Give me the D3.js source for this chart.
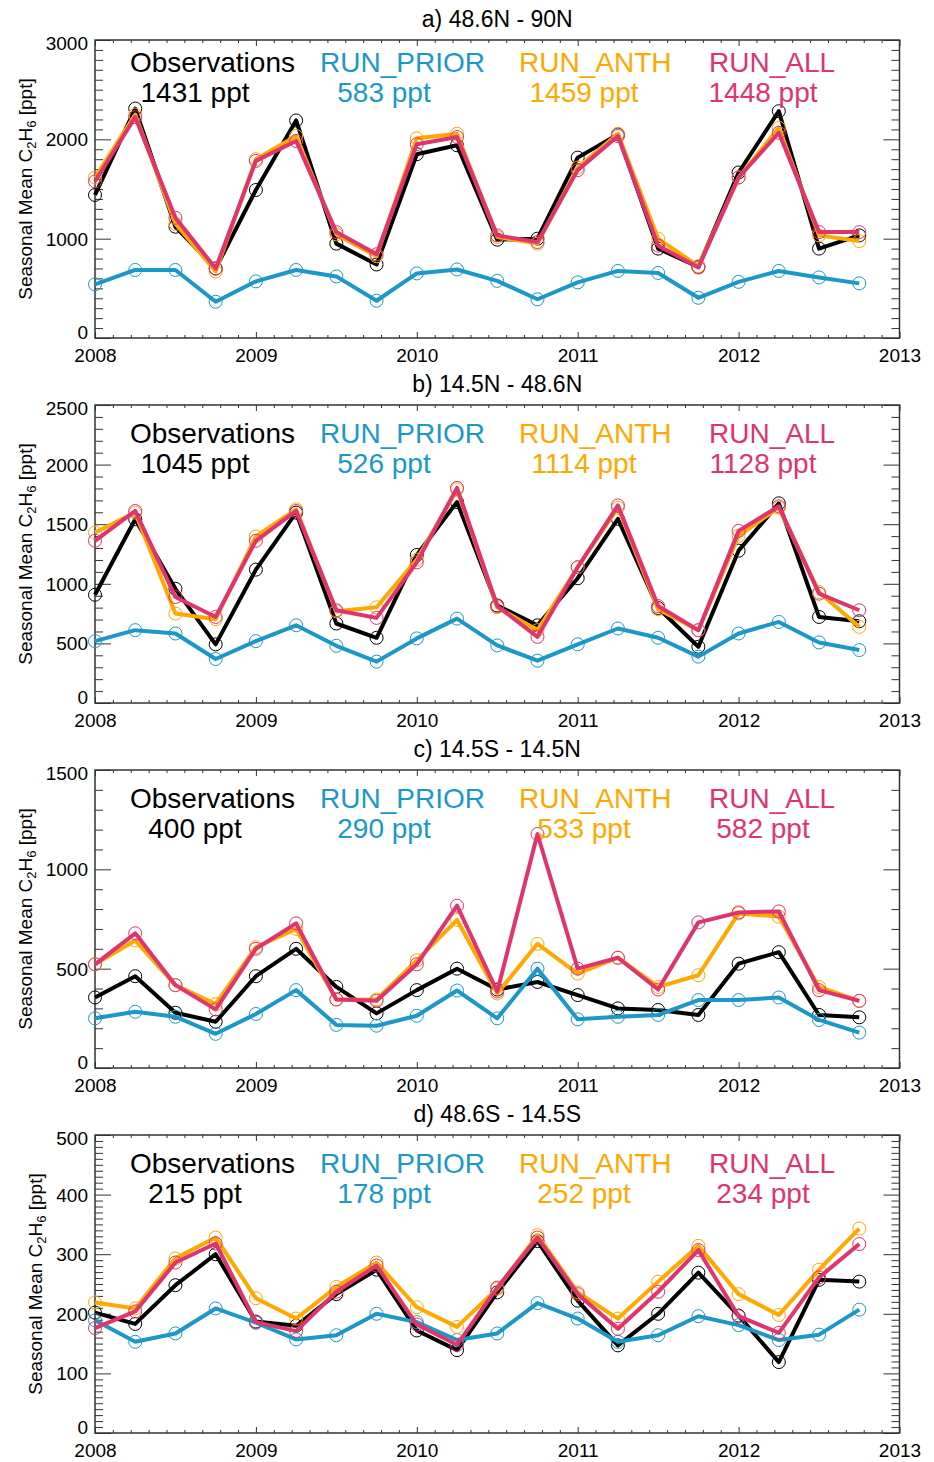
<!DOCTYPE html>
<html>
<head>
<meta charset="utf-8">
<script src="https://cdn.jsdelivr.net/npm/d3@7"></script>
<style>
  body { margin: 0; background: #fff; }
  svg { display: block; }
  text { font-family: "Liberation Sans", Arial, Helvetica, sans-serif; }
</style>
</head>
<body>
<div class="canvas"></div>
<script>

// quarterly seasons (decimal year)
const seasons = [2008.0, 2008.25, 2008.5, 2008.75, 2009.0, 2009.25, 2009.5, 2009.75,
  2010.0, 2010.25, 2010.5, 2010.75, 2011.0, 2011.25, 2011.5, 2011.75,
  2012.0, 2012.25, 2012.5, 2012.75];
const years = [2008, 2009, 2010, 2011, 2012, 2013];

const regions = ['a) 48.6N - 90N', 'b) 14.5N - 48.6N', 'c) 14.5S - 14.5N', 'd) 48.6S - 14.5S'];
const yMax = [3000, 2500, 1500, 500];
const yStep = [1000, 500, 500, 100];
const yMinor = [10, 5, 5, 10];

const seriesNames = ['Observations', 'RUN_PRIOR', 'RUN_ANTH', 'RUN_ALL'];
const seriesColours = ['#000000', '#1b98c8', '#ffa800', '#e0346e'];
const meanPpt = [
  [1431, 583, 1459, 1448],
  [1045, 526, 1114, 1128],
  [400, 290, 533, 582],
  [215, 178, 252, 234]
];

// a) 48.6N - 90N
const obsA   = [1440, 2310, 1120, 700, 1490, 2190, 950, 740, 1850, 1940, 990, 1000, 1816, 2050, 900, 716, 1666, 2283, 900, 1033];
const priorA = [540, 685, 685, 365, 570, 685, 620, 375, 650, 690, 575, 390, 560, 675, 655, 405, 565, 675, 610, 550];
const anthA  = [1616, 2250, 1150, 670, 1800, 2033, 1043, 823, 2010, 2056, 1016, 950, 1716, 2056, 1000, 723, 1616, 2116, 1033, 976];
const allA   = [1576, 2223, 1210, 700, 1783, 1983, 1066, 843, 1950, 2023, 1033, 966, 1690, 2033, 930, 710, 1616, 2066, 1066, 1066];

// b) 14.5N - 48.6N
const obsB   = [908, 1542, 958, 492, 1119, 1597, 667, 547, 1242, 1686, 818, 652, 1047, 1545, 797, 472, 1278, 1675, 722, 686];
const priorB = [519, 611, 583, 369, 519, 652, 480, 347, 542, 708, 483, 355, 492, 625, 547, 389, 583, 680, 508, 444];
const anthB  = [1430, 1597, 750, 703, 1397, 1625, 769, 803, 1203, 1792, 803, 611, 1139, 1639, 786, 611, 1403, 1639, 930, 639];
const allB   = [1361, 1611, 889, 722, 1361, 1611, 778, 714, 1180, 1805, 813, 555, 1139, 1658, 813, 611, 1444, 1650, 917, 778];

// c) 14.5S - 14.5N
const obsC   = [355, 462, 278, 233, 462, 600, 408, 275, 392, 500, 395, 433, 367, 300, 292, 267, 525, 583, 267, 255];
const priorC = [250, 283, 258, 172, 272, 392, 217, 213, 263, 390, 250, 500, 245, 258, 267, 342, 342, 355, 242, 178];
const anthC  = [522, 642, 417, 322, 608, 700, 345, 345, 542, 745, 375, 625, 475, 555, 408, 467, 778, 762, 408, 338];
const allC   = [522, 678, 417, 295, 600, 728, 345, 338, 522, 817, 385, 1178, 500, 555, 395, 733, 783, 788, 392, 338];

// d) 48.6S - 14.5S
const obsD   = [202, 183, 248, 300, 187, 180, 233, 274, 172, 139, 236, 322, 222, 147, 200, 269, 197, 119, 257, 254];
const priorD = [189, 153, 167, 209, 185, 157, 164, 200, 186, 156, 167, 218, 192, 153, 164, 196, 181, 156, 165, 207];
const anthD  = [219, 209, 293, 328, 226, 192, 245, 286, 211, 178, 242, 332, 236, 192, 254, 314, 233, 198, 274, 343];
const allD   = [176, 204, 286, 318, 186, 171, 237, 281, 182, 148, 244, 328, 233, 175, 237, 307, 196, 168, 261, 317];

const panelSeries = [
  [obsA, priorA, anthA, allA],
  [obsB, priorB, anthB, allB],
  [obsC, priorC, anthC, allC],
  [obsD, priorD, anthD, allD]
];

// layout
const dims = { width: 934, height: 1462 };
const frame = { left: 95, right: 899.5, height: 298 };
const frameTops = [40, 405, 770, 1135];
const legendTop = [32, 38, 38, 38];
const legendX1 = [130, 320, 519, 709];   // left edge of name line
const legendX2 = [195, 384, 584, 763];   // centre of mean line

const svg = d3.select('.canvas')
  .append('svg')
  .attr('width', dims.width)
  .attr('height', dims.height);

const x = d3.scaleLinear()
  .domain([years[0], years[years.length - 1]])
  .range([frame.left, frame.right]);

// minor x ticks: 9 per year like the original
const xMinorTicks = [];
years.slice(0, -1).forEach(yr => {
  for (let i = 1; i < 9; i++) xMinorTicks.push(yr + i / 9);
});

const axisCol = '#333';

panelSeries.forEach((series, p) => {
  const top = frameTops[p];
  const bottom = top + frame.height;
  const y = d3.scaleLinear().domain([0, yMax[p]]).range([bottom, top]);

  const g = svg.append('g').attr('class', 'panel');

  const yMajors = d3.range(0, yMax[p] + 1, yStep[p]);
  const yMinors = d3.range(0, yMax[p] + 1, yStep[p] / yMinor[p]).filter(v => v % yStep[p] !== 0);

  // --- axes (inward ticks on all four sides)
  const styleAxis = sel => {
    sel.select('.domain').remove();
    sel.selectAll('line').attr('stroke', axisCol).attr('stroke-width', 1);
    sel.selectAll('text').attr('fill', '#000').attr('font-size', 19);
  };

  g.append('g').attr('transform', `translate(0,${bottom})`)
    .call(d3.axisBottom(x).tickValues(years).tickSize(-6).tickPadding(11).tickFormat(d3.format('d')))
    .call(styleAxis);
  g.append('g').attr('transform', `translate(0,${bottom})`)
    .call(d3.axisBottom(x).tickValues(xMinorTicks).tickSize(-3).tickFormat(''))
    .call(styleAxis);
  g.append('g').attr('transform', `translate(0,${top})`)
    .call(d3.axisTop(x).tickValues(years).tickSize(-6).tickFormat(''))
    .call(styleAxis);
  g.append('g').attr('transform', `translate(0,${top})`)
    .call(d3.axisTop(x).tickValues(xMinorTicks).tickSize(-3).tickFormat(''))
    .call(styleAxis);

  const yAxisG = g.append('g').attr('transform', `translate(${frame.left},0)`)
    .call(d3.axisLeft(y).tickValues(yMajors).tickSize(-16).tickPadding(7).tickFormat(d3.format('d')))
    .call(styleAxis);
  yAxisG.selectAll('.tick text')
    .attr('dy', d => d === 0 ? '0.05em' : (d === yMax[p] ? '0.5em' : '0.34em'));
  g.append('g').attr('transform', `translate(${frame.left},0)`)
    .call(d3.axisLeft(y).tickValues(yMinors).tickSize(-8).tickFormat(''))
    .call(styleAxis);
  g.append('g').attr('transform', `translate(${frame.right},0)`)
    .call(d3.axisRight(y).tickValues(yMajors).tickSize(-16).tickFormat(''))
    .call(styleAxis);
  g.append('g').attr('transform', `translate(${frame.right},0)`)
    .call(d3.axisRight(y).tickValues(yMinors).tickSize(-8).tickFormat(''))
    .call(styleAxis);

  // frame
  g.append('rect')
    .attr('x', frame.left).attr('y', top)
    .attr('width', frame.right - frame.left).attr('height', frame.height)
    .attr('fill', 'none').attr('stroke', axisCol).attr('stroke-width', 1.5);

  // title
  g.append('text')
    .attr('x', (frame.left + frame.right) / 2)
    .attr('y', top - 13)
    .attr('text-anchor', 'middle')
    .attr('font-size', 23)
    .text(regions[p]);

  // y axis title, placed left of the widest tick label
  let maxW = 0;
  yAxisG.selectAll('.tick text').each(function() {
    maxW = Math.max(maxW, this.getComputedTextLength());
  });
  const ty = g.append('text')
    .attr('transform', `translate(${frame.left - 7 - maxW - 14},${(top + bottom) / 2}) rotate(-90)`)
    .attr('text-anchor', 'middle')
    .attr('font-size', 19);
  ty.append('tspan').text('Seasonal Mean C');
  ty.append('tspan').attr('dy', 4).attr('font-size', 13).text('2');
  ty.append('tspan').attr('dy', -4).text('H');
  ty.append('tspan').attr('dy', 4).attr('font-size', 13).text('6');
  ty.append('tspan').attr('dy', -4).text(' [ppt]');

  // lines + circles
  const line = d3.line()
    .x((d, i) => x(seasons[i]))
    .y(d => y(d));

  series.forEach((vals, s) => {
    g.append('path')
      .datum(vals)
      .attr('d', line)
      .attr('fill', 'none')
      .attr('stroke', seriesColours[s])
      .attr('stroke-width', 4)
      .attr('stroke-linejoin', 'round');

    g.selectAll(null)
      .data(vals)
      .enter()
      .append('circle')
      .attr('cx', (d, i) => x(seasons[i]))
      .attr('cy', d => y(d))
      .attr('r', 6.5)
      .attr('fill', 'none')
      .attr('stroke', seriesColours[s])
      .attr('stroke-width', 1);
  });

  // legend
  seriesNames.forEach((name, s) => {
    g.append('text')
      .attr('x', legendX1[s])
      .attr('y', top + legendTop[p])
      .attr('font-size', 28)
      .attr('fill', seriesColours[s])
      .text(name);
    g.append('text')
      .attr('x', legendX2[s])
      .attr('y', top + legendTop[p] + 29.5)
      .attr('text-anchor', 'middle')
      .attr('font-size', 28)
      .attr('fill', seriesColours[s])
      .text(`${meanPpt[p][s]} ppt`);
  });
});

</script>
</body>
</html>
